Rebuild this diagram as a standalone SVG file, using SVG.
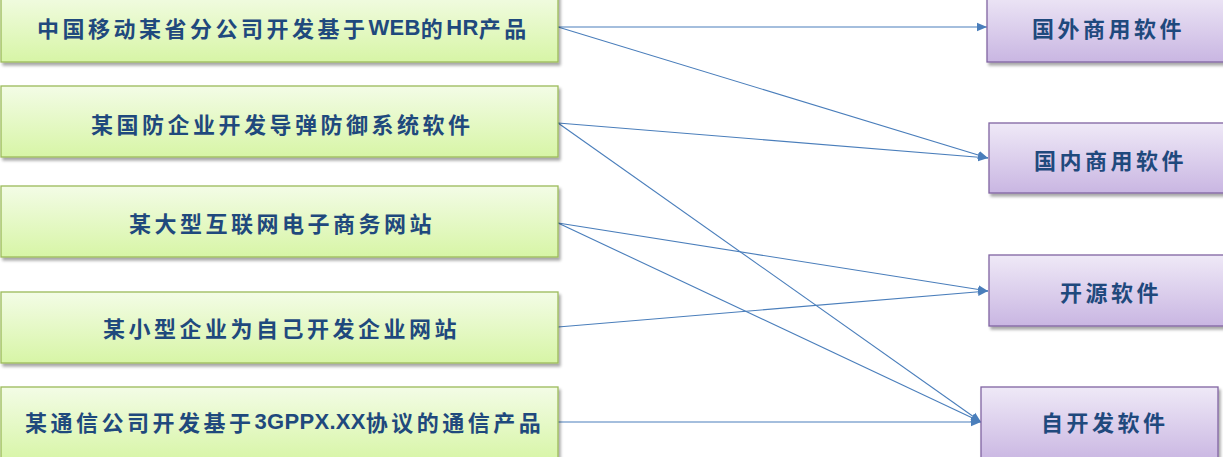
<svg xmlns="http://www.w3.org/2000/svg" width="1223" height="457" viewBox="0 0 1223 457">
<defs>
<linearGradient id="gGreen" x1="0" y1="0" x2="0" y2="1">
<stop offset="0" stop-color="#f3fce6"/>
<stop offset="1" stop-color="#d7f5a6"/>
</linearGradient>
<linearGradient id="gPurple" x1="0" y1="0" x2="0" y2="1">
<stop offset="0" stop-color="#efe9f7"/>
<stop offset="1" stop-color="#c9b6e2"/>
</linearGradient>
<filter id="sh" x="-5%" y="-10%" width="115%" height="130%">
<feGaussianBlur in="SourceAlpha" stdDeviation="1.6"/>
<feOffset dx="2" dy="3" result="b"/>
<feComponentTransfer><feFuncA type="linear" slope="0.35"/></feComponentTransfer>
<feMerge><feMergeNode/><feMergeNode in="SourceGraphic"/></feMerge>
</filter>
<marker id="arr" markerUnits="userSpaceOnUse" markerWidth="12" markerHeight="10" refX="10" refY="5" orient="auto">
<path d="M0,0.8 L10,5 L0,9.2 Z" fill="#4a7ebb"/>
</marker>
</defs>
<style>
.gbox{fill:url(#gGreen);stroke:#9bbb59;stroke-width:1.3;filter:url(#sh)}
.pbox{fill:url(#gPurple);stroke:#8064a2;stroke-width:1.3;filter:url(#sh)}
.t{font-family:"Noto Sans CJK SC","Noto Sans CJK TC",sans-serif;font-weight:bold;font-size:22px;fill:#1f497d;letter-spacing:3.5px;dominant-baseline:central}
.lat{font-family:"Liberation Sans",Arial,sans-serif;letter-spacing:0.3px}
.c{fill:none;stroke:#4a7ebb;stroke-width:1.1;marker-end:url(#arr)}
</style>
<rect width="1223" height="457" fill="#ffffff"/>
<g id="connectors">
<line class="c" x1="558" y1="27" x2="987" y2="27"/>
<line class="c" x1="558" y1="27" x2="988" y2="158"/>
<line class="c" x1="558" y1="123" x2="988" y2="158"/>
<line class="c" x1="558" y1="123" x2="981" y2="422"/>
<line class="c" x1="558" y1="223" x2="988" y2="291"/>
<line class="c" x1="558" y1="223" x2="981" y2="422"/>
<line class="c" x1="558" y1="327" x2="988" y2="291"/>
<line class="c" x1="558" y1="422" x2="981" y2="422"/>
</g>
<g id="src1"><rect class="gbox" x="1" y="-9" width="557" height="71"/>
<text class="t" x="37" y="27">中国移动某省分公司开发基于<tspan class="lat">WEB</tspan>的<tspan class="lat">HR</tspan>产品</text></g>
<g id="src2"><rect class="gbox" x="1" y="86" width="557" height="71"/>
<text class="t" x="91" y="123">某国防企业开发导弹防御系统软件</text></g>
<g id="src3"><rect class="gbox" x="1" y="186" width="557" height="71"/>
<text class="t" x="129" y="222">某大型互联网电子商务网站</text></g>
<g id="src4"><rect class="gbox" x="1" y="292" width="557" height="71"/>
<text class="t" x="103" y="327">某小型企业为自己开发企业网站</text></g>
<g id="src5"><rect class="gbox" x="1" y="387" width="557" height="75"/>
<text class="t" x="25" y="421">某通信公司开发基于<tspan class="lat">3GPPX.XX</tspan>协议的通信产品</text></g>
<g id="dst1"><rect class="pbox" x="987" y="-9" width="245" height="71"/>
<text class="t" x="1032" y="27">国外商用软件</text></g>
<g id="dst2"><rect class="pbox" x="989" y="123" width="245" height="70"/>
<text class="t" x="1034" y="159">国内商用软件</text></g>
<g id="dst3"><rect class="pbox" x="989" y="255" width="245" height="71"/>
<text class="t" x="1060" y="291">开源软件</text></g>
<g id="dst4"><rect class="pbox" x="981" y="387" width="237" height="75"/>
<text class="t" x="1041" y="421">自开发软件</text></g>
</svg>
